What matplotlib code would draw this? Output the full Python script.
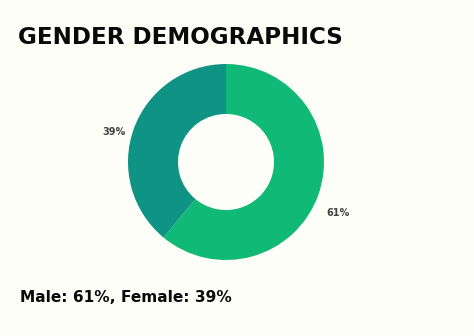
import numpy as np
import matplotlib.pyplot as plt

labels = ["Male", "Female"]
shares = [61, 39]
colors = ["#10b976", "#0e9384"]
bg = "#fdfef7"

fig = plt.figure(figsize=(4.74, 3.36), dpi=100, facecolor=bg)

# donut centred at ~(226,162) px, radius ~98 px
ax = fig.add_axes([128 / 474, (336 - 162 - 98) / 336, 196 / 474, 196 / 336])
ax.set_facecolor(bg)
wedges, _ = ax.pie(shares, colors=colors, startangle=90, counterclock=False,
                   radius=1.0, wedgeprops=dict(width=0.51, linewidth=0))

# percentage labels outside each wedge
label_shift = [-4.7, 5]      # degrees
label_dist = [1.26, 1.18]
for w, s, sh, d in zip(wedges, shares, label_shift, label_dist):
    ang = np.deg2rad((w.theta1 + w.theta2) / 2 + sh)
    ax.text(d * np.cos(ang), d * np.sin(ang), "%d%%" % s, ha="center", va="center",
            fontsize=7, fontweight="bold", color="#444444", clip_on=False)

ax.set_xlim(-1, 1)
ax.set_ylim(-1, 1)
ax.set_aspect("equal")
ax.axis("off")

fig.text(18 / 474, 1 - 38 / 336, "GENDER DEMOGRAPHICS", fontsize=16.6,
         fontweight="bold", family="DejaVu Sans", va="center", ha="left", color="#0a0a0a")
fig.text(20 / 474, 1 - 298 / 336, "Male: %d%%, Female: %d%%" % (shares[0], shares[1]),
         fontsize=11.1, fontweight="bold", family="DejaVu Sans", va="center", ha="left",
         color="#0a0a0a")

fig.savefig("out.png", dpi=100, facecolor=bg)
